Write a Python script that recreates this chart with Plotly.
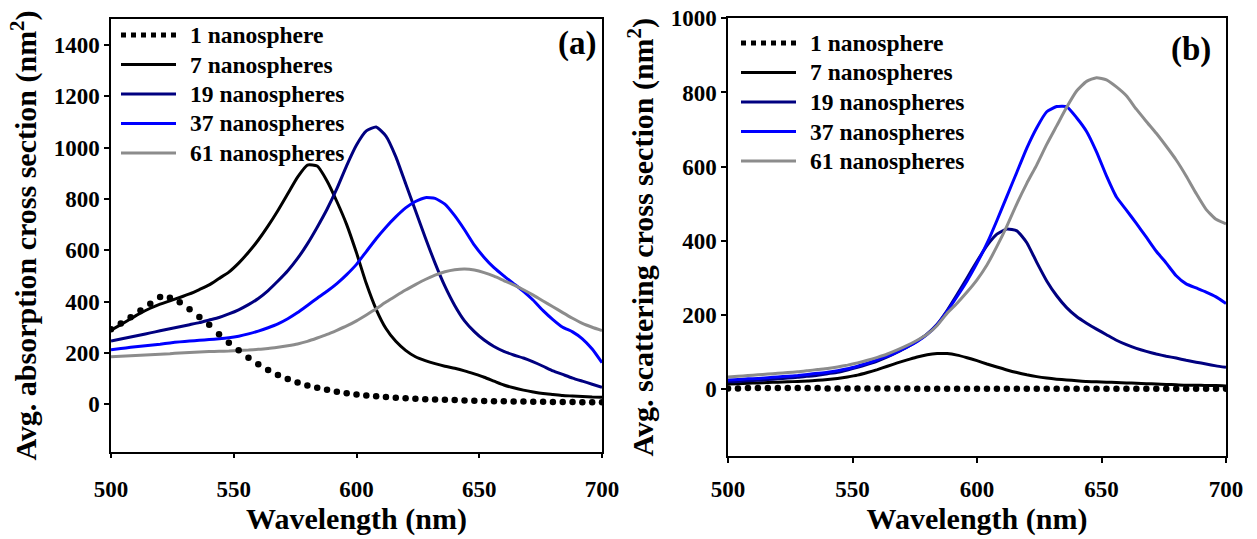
import plotly.graph_objects as go

# Wavelength grid (nm), 4 nm steps
wavelength = list(range(500, 701, 4))

series_names = ["1 nanosphere", "7 nanospheres", "19 nanospheres",
                "37 nanospheres", "61 nanospheres"]
line_colors = ["#000000", "#000000", "#000080", "#0000FF", "#8C8C8C"]

# Average absorption cross section (nm^2)
abs_1 = [292, 315, 339, 365, 392, 418, 415, 397, 370, 340,
         310, 273, 240, 210, 181, 156, 133, 114, 98, 85,
         73, 64, 56, 49, 43, 38, 34, 31, 28, 25,
         23, 21, 19, 18, 17, 16, 15, 14, 13, 12,
         12, 11, 11, 10, 10, 9, 9, 9, 8, 8,
         8]
abs_7 = [288, 310, 333, 355, 374, 390, 403, 416, 430, 447,
         465, 490, 515, 550, 592, 640, 695, 755, 820, 885,
         932, 928, 870, 790, 700, 590, 470, 370, 295, 245,
         210, 185, 170, 158, 148, 140, 130, 118, 105, 90,
         75, 64, 55, 48, 42, 38, 34, 32, 30, 28,
         27]
abs_19 = [246, 254, 262, 270, 278, 286, 294, 302, 310, 318,
          328, 338, 352, 368, 388, 412, 443, 480, 520, 568,
          625, 690, 760, 840, 930, 1010, 1065, 1080, 1045, 965,
          860, 755, 650, 550, 460, 385, 325, 283, 250, 225,
          206, 192, 180, 165, 148, 130, 116, 102, 90, 78,
          66]
abs_37 = [212, 217, 222, 226, 230, 234, 239, 243, 246, 249,
          252, 255, 259, 265, 274, 285, 298, 313, 333, 357,
          385, 413, 440, 470, 505, 545, 595, 645, 690, 730,
          765, 790, 805, 802, 780, 735, 680, 620, 572, 532,
          500, 470, 440, 405, 365, 330, 300, 282, 255, 215,
          162]
abs_61 = [185, 187, 189, 191, 193, 195, 197, 200, 202, 204,
          205, 206, 207, 209, 211, 214, 217, 222, 228, 235,
          245, 258, 272, 288, 305, 325, 348, 372, 398, 422,
          445, 466, 486, 503, 516, 524, 527, 523, 513, 499,
          482, 465, 446, 425, 402, 380, 357, 335, 315, 300,
          287]

# Average scattering cross section (nm^2)
sca_1 = [2, 2, 3, 3, 3, 3, 3, 3, 3, 3,
         2, 2, 2, 2, 2, 2, 2, 2, 2, 1,
         1, 1, 1, 1, 1, 1, 1, 1, 1, 1,
         1, 1, 1, 1, 1, 1, 1, 1, 1, 1,
         1, 1, 1, 1, 1, 1, 1, 1, 1, 1,
         1]
sca_7 = [14, 15, 16, 17, 18, 19, 20, 21, 22, 24,
         26, 29, 33, 38, 45, 53, 62, 71, 79, 87,
         93, 96, 96, 92, 85, 77, 68, 60, 52, 45,
         39, 34, 30, 27, 25, 23, 21, 20, 19, 18,
         17, 16, 15, 14, 13, 12, 11, 11, 10, 10,
         9]
sca_19 = [20, 21, 23, 24, 26, 28, 30, 32, 35, 38,
          42, 46, 52, 59, 67, 76, 87, 100, 114, 130,
          149, 175, 212, 255, 300, 345, 387, 418, 432, 427,
          395, 342, 292, 252, 220, 196, 178, 162, 147, 132,
          120, 110, 102, 95, 89, 84, 78, 73, 68, 63,
          59]
sca_37 = [25, 26, 28, 29, 31, 33, 35, 37, 40, 43,
          46, 50, 55, 62, 70, 79, 89, 101, 114, 129,
          148, 174, 210, 250, 292, 340, 393, 455, 520, 585,
          650, 705, 748, 762, 762, 732, 695, 640, 575, 518,
          483, 447, 410, 372, 340, 306, 284, 273, 262, 249,
          231]
sca_61 = [33, 35, 37, 39, 41, 43, 45, 47, 50, 53,
          56, 60, 65, 71, 78, 86, 95, 106, 118, 132,
          148, 172, 205, 232, 262, 295, 335, 385, 440, 500,
          555, 605, 660, 710, 760, 804, 830, 840, 834, 815,
          791, 755, 722, 690, 655, 618, 575, 528, 485, 458,
          446]

x_ticks = [500, 550, 600, 650, 700]
abs_ticks = [0, 200, 400, 600, 800, 1000, 1200, 1400]
sca_ticks = [0, 200, 400, 600, 800, 1000]
panel_tags = ["(a)", "(b)"]

W, H = 1257, 539
FONT = "Liberation Serif"

fig = go.Figure()


def add_panel(values, xa, ya):
    for color, vals in zip(line_colors[1:], values[1:]):
        fig.add_trace(go.Scatter(
            x=wavelength, y=vals, mode="lines",
            line=dict(color=color, width=3, shape="spline", smoothing=0.5),
            xaxis=xa, yaxis=ya))
    # single-sphere data drawn as round dots
    fig.add_trace(go.Scatter(
        x=wavelength, y=values[0], mode="markers",
        marker=dict(color="black", size=6.5, line=dict(width=0)),
        xaxis=xa, yaxis=ya))


add_panel([abs_1, abs_7, abs_19, abs_37, abs_61], "x", "y")
add_panel([sca_1, sca_7, sca_19, sca_37, sca_61], "x2", "y2")

tick_font = dict(family=FONT, size=23, color="black", weight="bold")
title_font = dict(family=FONT, size=30, color="black", weight="bold")

common_x = dict(range=[500, 700], tickvals=x_ticks, ticks="outside", ticklen=5,
                tickwidth=1.5, tickcolor="black", showline=True, mirror=True,
                linecolor="black", linewidth=1.5, showgrid=False, zeroline=False,
                tickfont=tick_font, automargin=False)
common_y = dict(ticks="outside", ticklen=5, tickwidth=1.5, tickcolor="black",
                showline=True, mirror=True, linecolor="black", linewidth=1.5,
                showgrid=False, zeroline=False, tickfont=tick_font,
                automargin=False)

fig.update_layout(
    width=W, height=H,
    margin=dict(l=0, r=0, t=0, b=0, autoexpand=False),
    paper_bgcolor="white", plot_bgcolor="white",
    showlegend=False,
    xaxis=dict(domain=[111 / W, 602 / W], anchor="y", ticklabelstandoff=11,
               title=dict(text="Wavelength (nm)", font=title_font, standoff=6),
               **common_x),
    yaxis=dict(domain=[1 - 451.7 / H, 1 - 19.3 / H], anchor="x",
               range=[-185, 1500], tickvals=abs_ticks,
               title=dict(text="Avg. absorption cross section (nm<sup>2</sup>)",
                          font=title_font, standoff=8),
               **common_y),
    xaxis2=dict(domain=[728 / W, 1226 / W], anchor="y2", ticklabelstandoff=7,
                title=dict(text="Wavelength (nm)", font=title_font, standoff=6),
                **common_x),
    yaxis2=dict(domain=[1 - 456 / H, 1 - 18.3 / H], anchor="x2",
                range=[-180, 1000], tickvals=sca_ticks,
                title=dict(text="Avg. scattering cross section (nm<sup>2</sup>)",
                           font=title_font, standoff=8),
                **common_y),
)


def add_key(x_line, x_text, y_first, row_gap=29.5, sample_len=55):
    """Legend block: a line sample and a bold label for each series (pixel layout)."""
    for i, (name, color) in enumerate(zip(series_names, line_colors)):
        yy = 1 - (y_first + row_gap * i) / H
        dotted = i == 0
        fig.add_shape(type="line", xref="paper", yref="paper",
                      x0=x_line / W, x1=(x_line + sample_len) / W, y0=yy, y1=yy,
                      line=dict(color=color, width=5 if dotted else 3,
                                dash="5px,5px" if dotted else "solid"))
        fig.add_annotation(text=name, xref="paper", yref="paper",
                           x=x_text / W, y=yy, xanchor="left", yanchor="middle",
                           showarrow=False,
                           font=dict(family=FONT, size=23.5, color="black",
                                     weight="bold"))


add_key(121, 188, 35)
add_key(741, 808, 43)

# panel tags in the upper-right corner of each plot
for tag, x_px, y_px in zip(panel_tags, [598, 1213], [44, 49]):
    fig.add_annotation(text=tag, xref="paper", yref="paper",
                       x=x_px / W, y=1 - y_px / H, xanchor="right",
                       yanchor="middle", showarrow=False,
                       font=dict(family=FONT, size=33, color="black",
                                 weight="bold"))

fig.write_html("out.html")
